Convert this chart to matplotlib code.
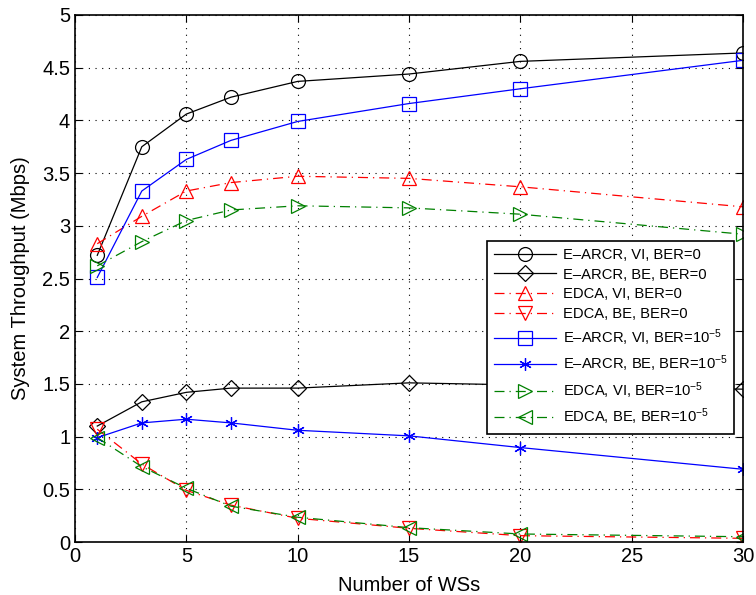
"""Throughput vs number of WSs (E-ARCR vs EDCA)"""

import matplotlib
matplotlib.use("Agg")
import matplotlib.pyplot as plt

plt.rcParams["font.family"] = ["Liberation Sans", "DejaVu Sans"]
plt.rcParams["mathtext.fontset"] = "custom"
plt.rcParams["mathtext.rm"] = "Liberation Sans"
plt.rcParams["mathtext.it"] = "Liberation Sans:italic"

num_ws = [1, 3, 5, 7, 10, 15, 20, 30]

earcr_vi_ber0 = [2.72, 3.75, 4.06, 4.22, 4.37, 4.44, 4.56, 4.64]
earcr_be_ber0 = [1.10, 1.33, 1.42, 1.46, 1.46, 1.51, 1.49, 1.45]
edca_vi_ber0 = [2.83, 3.09, 3.33, 3.41, 3.47, 3.45, 3.37, 3.18]
edca_be_ber0 = [1.07, 0.74, 0.49, 0.35, 0.225, 0.13, 0.06, 0.035]
earcr_vi_ber5 = [2.51, 3.33, 3.63, 3.81, 3.99, 4.16, 4.30, 4.57]
earcr_be_ber5 = [0.99, 1.13, 1.165, 1.13, 1.06, 1.007, 0.896, 0.69]
edca_vi_ber5 = [2.62, 2.85, 3.05, 3.15, 3.19, 3.17, 3.11, 2.92]
edca_be_ber5 = [0.99, 0.715, 0.51, 0.34, 0.235, 0.136, 0.076, 0.05]

GREEN = (0, 0.5, 0)
ASTERISK = (6, 2, 0)  # matlab style '*'
series = [
    (earcr_vi_ber0, "k", "-", "o", "E\u2013ARCR, VI, BER=0"),
    (earcr_be_ber0, "k", "-", "D", "E\u2013ARCR, BE, BER=0"),
    (edca_vi_ber0, "r", "-.", "^", "EDCA, VI, BER=0"),
    (edca_be_ber0, "r", "-.", "v", "EDCA, BE, BER=0"),
    (earcr_vi_ber5, "b", "-", "s", "E\u2013ARCR, VI, BER=10$^{-5}$"),
    (earcr_be_ber5, "b", "-", ASTERISK, "E\u2013ARCR, BE, BER=10$^{-5}$"),
    (edca_vi_ber5, GREEN, "-.", ">", "EDCA, VI, BER=10$^{-5}$"),
    (edca_be_ber5, GREEN, "-.", "<", "EDCA, BE, BER=10$^{-5}$"),
]

fig = plt.figure(figsize=(7.56, 5.95), dpi=100)
ax = fig.add_axes([75 / 756, 1 - 542 / 595, 668 / 756, 527 / 595])

for vals, color, ls, mk, label in series:
    ms = 10
    if mk == "D":
        ms = 8
    elif mk == ASTERISK:
        ms = 9
    ax.plot(num_ws, vals, color=color, linestyle=ls, linewidth=0.9,
            marker=mk, markersize=ms, markerfacecolor="none",
            markeredgecolor=color, markeredgewidth=0.9, label=label,
            dashes=(8, 4, 1, 4) if ls == "-." else (None, None))

ax.set_xlim(0, 30)
ax.set_ylim(0, 5)
ax.set_xticks([0, 5, 10, 15, 20, 25, 30])
ax.set_yticks([0, 0.5, 1, 1.5, 2, 2.5, 3, 3.5, 4, 4.5, 5])
ax.set_yticklabels(["0", "0.5", "1", "1.5", "2", "2.5", "3", "3.5", "4", "4.5", "5"])
ax.tick_params(direction="in", top=True, right=True, labelsize=14.5, length=5, width=0.8)
ax.grid(True, color="k", linestyle=(0, (1, 5)), linewidth=0.8)
for sp in ax.spines.values():
    sp.set_linewidth(1.2)

ax.set_xlabel("Number of WSs", fontsize=14.5, labelpad=7)
ax.set_ylabel("System Throughput (Mbps)", fontsize=14.5, labelpad=9)

leg = ax.legend(loc="lower right", bbox_to_anchor=(0.987, 0.205), fontsize=10.6,
                fancybox=False, framealpha=1, edgecolor="k", handlelength=4.2,
                handletextpad=0.5, labelspacing=0.4, borderpad=0.45,
                borderaxespad=0)
leg.get_frame().set_linewidth(1.2)

fig.savefig("out.png", dpi=100)
plt.close(fig)
